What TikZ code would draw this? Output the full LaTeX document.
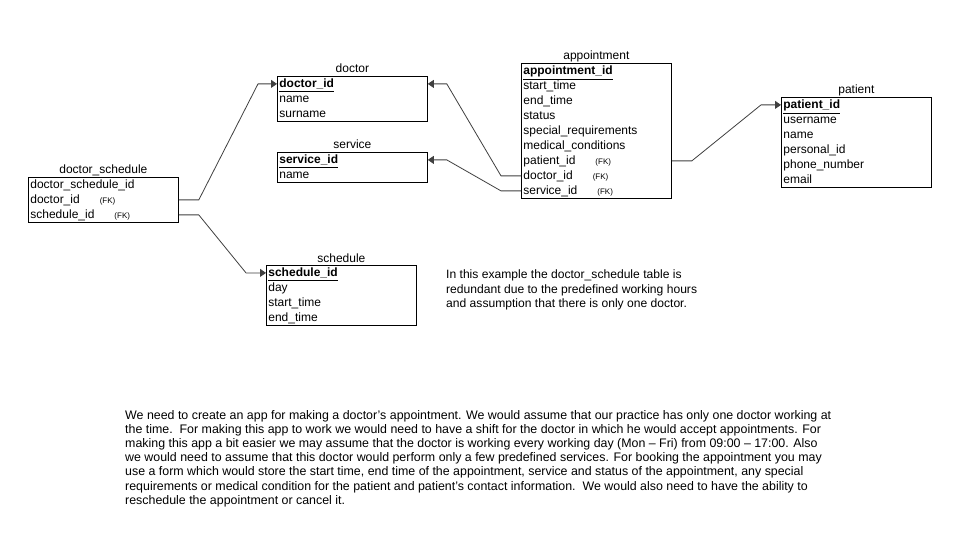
\documentclass[tikz,border=0pt]{standalone}
\usepackage{fontspec}
\setmainfont{Liberation Sans}
\usetikzlibrary{matrix,arrows.meta}
\newcommand{\fk}{\hspace{20pt}{\fontsize{8}{8}\selectfont(FK)}}
\newcommand{\pk}[1]{\underline{\textbf{#1}}}
\begin{document}
\begin{tikzpicture}[x=1pt,y=-1pt,
  tbl/.style={matrix of nodes, draw=black, line width=0.8pt, inner sep=0pt, anchor=north west,
    nodes={font=\fontsize{12}{15}\selectfont, text width=146pt, inner xsep=2pt, inner ysep=0pt,
      text height=11.5pt, text depth=3.5pt, align=left}},
  ttl/.style={font=\fontsize{12}{15}\selectfont, anchor=base, yshift=3pt, inner sep=0pt},
  link/.style={draw=black!75, line width=0.8pt, -{Triangle[length=6pt,width=8pt]}},
  txt/.style={anchor=north west, align=left, inner sep=0pt}]
\path[use as bounding box, fill=white] (0,0) rectangle (968,537);
% tables
\matrix[tbl] (ds) at (28,177) {
doctor\_schedule\_id\\
doctor\_id\fk\\
schedule\_id\fk\\};
\matrix[tbl] (doc) at (277,76) {
\pk{doctor\_id}\\
name\\
surname\\};
\matrix[tbl] (srv) at (277,152) {
\pk{service\_id}\\
name\\};
\matrix[tbl] (sch) at (266,265) {
\pk{schedule\_id}\\
day\\
start\_time\\
end\_time\\};
\matrix[tbl] (app) at (521,63) {
\pk{appointment\_id}\\
start\_time\\
end\_time\\
status\\
special\_requirements\\
medical\_conditions\\
patient\_id\fk\\
doctor\_id\fk\\
service\_id\fk\\};
\matrix[tbl] (pat) at (781,97) {
\pk{patient\_id}\\
username\\
name\\
personal\_id\\
phone\_number\\
email\\};
% titles
\node[ttl] (dsT) at (ds.north) {doctor\_schedule};
\node[ttl] (docT) at (doc.north) {doctor};
\node[ttl] (srvT) at (srv.north) {service};
\node[ttl] (schT) at (sch.north) {schedule};
\node[ttl] (appT) at (app.north) {appointment};
\node[ttl] (patT) at (pat.north) {patient};
% links
\draw[link] (ds-2-1.east) -- ++(20,0) -- ([xshift=-19pt]doc-1-1.west) -- (doc-1-1.west);
\draw[link] (ds-3-1.east) -- ++(20,0) -- ([xshift=-20pt]sch-1-1.west) -- (sch-1-1.west);
\draw[link] (app-8-1.west) -- ++(-20,0) -- ([xshift=19pt]doc-1-1.east) -- (doc-1-1.east);
\draw[link] (app-9-1.west) -- ++(-20,0) -- ([xshift=19pt]srv-1-1.east) -- (srv-1-1.east);
\draw[link] (app-7-1.east) -- ++(20,0) -- ([xshift=-20pt]pat-1-1.west) -- (pat-1-1.west);
% notes
\node[txt, font=\fontsize{12.1}{14.5}\selectfont] (note) at (446,270) {In this example the doctor\_schedule table is\\
redundant due to the predefined working hours\\
and assumption that there is only one doctor.};
\node[txt, font=\fontsize{12.4}{14.2}\selectfont] (desc) at (125,410) {We need to create an app for making a doctor’s appointment. We would assume that our practice has only one doctor working at\\
the time.\ \ For making this app to work we would need to have a shift for the doctor in which he would accept appointments. For\\
making this app a bit easier we may assume that the doctor is working every working day (Mon -- Fri) from 09:00 -- 17:00. Also\\
we would need to assume that this doctor would perform only a few predefined services. For booking the appointment you may\\
use a form which would store the start time, end time of the appointment, service and status of the appointment, any special\\
requirements or medical condition for the patient and patient’s contact information.\ \ We would also need to have the ability to\\
reschedule the appointment or cancel it.};
\end{tikzpicture}
\end{document}
